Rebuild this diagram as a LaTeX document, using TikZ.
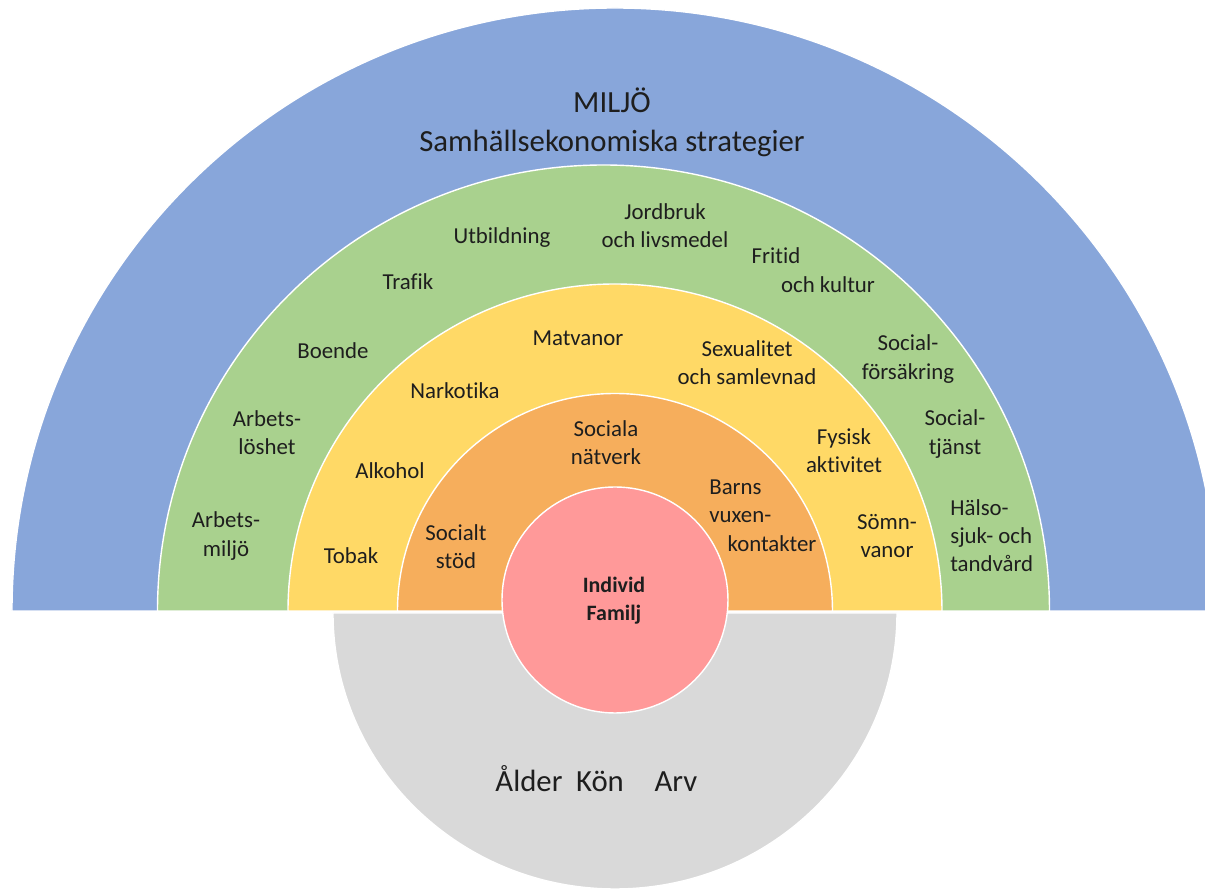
\documentclass[tikz,border=0pt]{standalone}
\usepackage{fontspec}
\setmainfont{Carlito}[Ligatures=NoCommon]
\usepackage{tikz}
\usetikzlibrary{positioning}

\definecolor{miljo}{RGB}{136,166,218}
\definecolor{grn}{RGB}{169,209,142}
\definecolor{gul}{RGB}{255,217,102}
\definecolor{ora}{RGB}{246,174,92}
\definecolor{ros}{RGB}{255,153,153}
\definecolor{gra}{RGB}{217,217,217}
\definecolor{txt}{RGB}{30,30,30}

\begin{document}
\begin{tikzpicture}
	[x=0.02cm, y=0.02cm,
	 ring/.style = {draw=white, line width=0.8pt},
	 lbl/.style = {align=center, text=txt, inner sep=0pt, font=\fontsize{13}{16}\selectfont},
	 big/.style = {align=center, text=txt, inner sep=0pt, font=\fontsize{17.5}{22}\selectfont}]
	\useasboundingbox (-615,-281) rectangle (590,611);
	% ringar
	\begin{scope}
		\clip (-615,-281) rectangle (590,611);
		\filldraw[ring, fill=miljo] (-603,0) arc[start angle=180, end angle=0, radius=603] -- cycle;
	\end{scope}
	\filldraw[ring, fill=grn] (-457.5,0) arc[start angle=180, end angle=0, radius=446] -- cycle;
	\filldraw[ring, fill=gul] (-327,0) arc[start angle=180, end angle=0, radius=327] -- cycle;
	\filldraw[ring, fill=ora] (-217.5,0) arc[start angle=180, end angle=0, radius=217.5] -- cycle;
	\filldraw[ring, fill=gra] (-282,-2) arc[start angle=180, end angle=360, x radius=282, y radius=276] -- cycle;
	\filldraw[ring, fill=ros] (0,11) circle[radius=113];
	% texter
	\node[big] (miljo) at (-3,489) {MILJÖ\\Samhällsekonomiska strategier};
	\node[lbl] (jordbruk) at (50,385) {Jordbruk\\och livsmedel};
	\node[lbl] (utb) at (-113,373) {Utbildning};
	\node[lbl] (fritid) at (161,355) {Fritid};
	\node[lbl] (kultur) at (213,326) {och kultur};
	\node[lbl] (trafik) at (-207,329) {Trafik};
	\node[lbl] (boende) at (-282,260) {Boende};
	\node[lbl] (losh) at (-348,178) {Arbets-\\löshet};
	\node[lbl] (amiljo) at (-389,75) {Arbets-\\miljö};
	\node[lbl] (fors) at (293,252) {Social-\\försäkring};
	\node[lbl] (tjanst) at (340,177) {Social-\\tjänst};
	\node[lbl, align=left, anchor=west] (halso) at (335,75) {Hälso-\\sjuk- och\\tandvård};
	\node[lbl] (mat) at (-37,273) {Matvanor};
	\node[lbl] (sex) at (132,248) {Sexualitet\\och samlevnad};
	\node[lbl] (nark) at (-160,220) {Narkotika};
	\node[lbl] (alk) at (-225,140) {Alkohol};
	\node[lbl] (fys) at (229,160) {Fysisk\\aktivitet};
	\node[lbl] (tobak) at (-264,55) {Tobak};
	\node[lbl] (somn) at (272,75) {Sömn-\\vanor};
	\node[lbl] (natv) at (-9,168) {Sociala\\nätverk};
	\node[lbl] (stod) at (-159,64) {Socialt\\stöd};
	\node[lbl, align=left, anchor=west] (barns) at (94,110) {Barns\\vuxen-};
	\node[lbl] (kont) at (157,67) {kontakter};
	\node[lbl, font=\fontsize{12.5}{16}\selectfont\bfseries] (indiv) at (-1,10) {Individ\\Familj};
	\node[big, anchor=base] (alder) at (-86,-181) {Ålder};
	\node[big, anchor=base] (kon) at (-15,-181) {Kön};
	\node[big, anchor=base] (arv) at (61,-181) {Arv};
\end{tikzpicture}
\end{document}
